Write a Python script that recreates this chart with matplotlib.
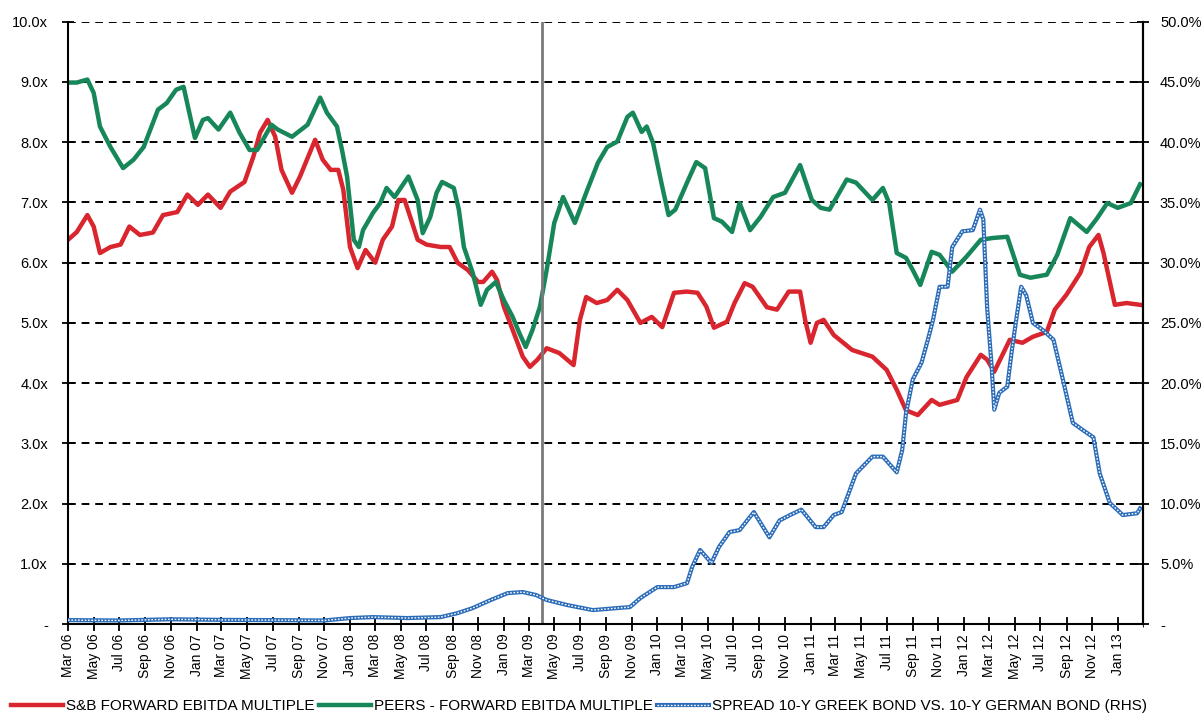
import matplotlib
matplotlib.use("Agg")
import matplotlib.pyplot as plt
import matplotlib.dates as mdates
import pandas as pd

plt.rcParams['font.family'] = ['Liberation Sans', 'DejaVu Sans']

# S&B forward EBITDA multiple (x)
sb_dates = ["2006-03-01", "2006-03-22", "2006-04-16", "2006-05-01", "2006-05-16", "2006-06-10",
            "2006-07-04", "2006-07-25", "2006-08-19", "2006-09-19", "2006-10-13", "2006-11-16",
            "2006-12-10", "2007-01-04", "2007-01-28", "2007-02-27", "2007-03-22", "2007-04-25",
            "2007-05-16", "2007-06-01", "2007-06-19", "2007-07-07", "2007-07-22", "2007-08-16",
            "2007-09-04", "2007-10-10", "2007-10-28", "2007-11-16", "2007-12-04", "2007-12-16",
            "2008-01-01", "2008-01-19", "2008-02-07", "2008-03-01", "2008-03-19", "2008-04-10",
            "2008-04-25", "2008-05-10", "2008-05-28", "2008-06-10", "2008-07-01", "2008-08-04",
            "2008-08-25", "2008-09-13", "2008-10-07", "2008-11-01", "2008-11-13", "2008-12-04",
            "2008-12-16", "2009-01-01", "2009-01-25", "2009-02-15", "2009-03-04", "2009-03-22",
            "2009-04-13", "2009-05-13", "2009-06-16", "2009-07-01", "2009-07-16", "2009-08-10",
            "2009-09-04", "2009-09-28", "2009-10-22", "2009-11-22", "2009-12-19", "2010-01-13",
            "2010-02-10", "2010-03-13", "2010-04-07", "2010-04-28", "2010-05-16", "2010-06-16",
            "2010-07-04", "2010-07-28", "2010-08-16", "2010-09-19", "2010-10-13", "2010-11-10",
            "2010-12-07", "2010-12-19", "2011-01-01", "2011-01-16", "2011-02-01", "2011-02-25",
            "2011-04-10", "2011-05-28", "2011-07-01", "2011-07-25", "2011-08-16", "2011-09-13",
            "2011-10-16", "2011-11-04", "2011-12-16", "2012-01-07", "2012-02-10", "2012-02-25",
            "2012-03-13", "2012-04-19", "2012-05-19", "2012-06-13", "2012-07-16", "2012-08-04",
            "2012-09-01", "2012-10-04", "2012-10-25", "2012-11-16", "2012-11-28", "2012-12-25",
            "2013-01-22", "2013-02-23"]
sb_vals = [6.38, 6.51, 6.79, 6.60, 6.16, 6.26,
           6.30, 6.60, 6.46, 6.50, 6.79, 6.84,
           7.13, 6.96, 7.13, 6.91, 7.18, 7.34,
           7.76, 8.16, 8.37, 8.09, 7.54, 7.16,
           7.43, 8.04, 7.71, 7.54, 7.54, 7.21,
           6.26, 5.91, 6.21, 6.00, 6.38, 6.60,
           7.04, 7.04, 6.66, 6.38, 6.30, 6.26,
           6.26, 6.00, 5.88, 5.68, 5.68, 5.85,
           5.71, 5.27, 4.83, 4.44, 4.27, 4.39,
           4.58, 4.50, 4.30, 5.05, 5.43, 5.33,
           5.38, 5.55, 5.38, 5.00, 5.10, 4.93,
           5.50, 5.52, 5.50, 5.27, 4.92, 5.02,
           5.33, 5.66, 5.60, 5.26, 5.22, 5.52,
           5.52, 5.05, 4.67, 5.00, 5.05, 4.80,
           4.55, 4.44, 4.22, 3.89, 3.55, 3.47,
           3.72, 3.64, 3.72, 4.10, 4.47, 4.39,
           4.19, 4.72, 4.67, 4.77, 4.85, 5.22,
           5.47, 5.83, 6.26, 6.46, 6.16, 5.30,
           5.33, 5.30]

# Peers forward EBITDA multiple (x)
peer_dates = ["2006-03-01", "2006-03-22", "2006-04-16", "2006-05-01", "2006-05-16", "2006-06-10",
              "2006-07-10", "2006-08-04", "2006-08-28", "2006-10-01", "2006-10-22", "2006-11-13",
              "2006-12-01", "2006-12-13", "2006-12-28", "2007-01-16", "2007-01-28", "2007-02-22",
              "2007-03-22", "2007-04-13", "2007-05-07", "2007-05-25", "2007-06-28", "2007-07-13",
              "2007-08-16", "2007-09-22", "2007-10-22", "2007-11-07", "2007-12-01", "2007-12-13",
              "2007-12-25", "2008-01-10", "2008-01-22", "2008-02-01", "2008-02-25", "2008-03-13",
              "2008-03-28", "2008-04-16", "2008-05-19", "2008-06-10", "2008-06-22", "2008-07-10",
              "2008-07-25", "2008-08-07", "2008-09-04", "2008-09-16", "2008-09-28", "2008-10-19",
              "2008-11-07", "2008-11-22", "2008-12-13", "2009-01-01", "2009-01-22", "2009-02-07",
              "2009-02-22", "2009-03-10", "2009-03-28", "2009-04-13", "2009-05-01", "2009-05-22",
              "2009-06-19", "2009-07-16", "2009-08-13", "2009-09-04", "2009-09-28", "2009-10-22",
              "2009-11-04", "2009-11-25", "2009-12-07", "2009-12-22", "2010-01-13", "2010-01-28",
              "2010-02-13", "2010-03-13", "2010-04-04", "2010-04-25", "2010-05-16", "2010-06-04",
              "2010-06-28", "2010-07-16", "2010-08-10", "2010-09-04", "2010-10-04", "2010-11-01",
              "2010-12-07", "2011-01-04", "2011-01-25", "2011-02-15", "2011-03-28", "2011-04-19",
              "2011-05-28", "2011-06-22", "2011-07-07", "2011-07-25", "2011-08-16", "2011-09-01",
              "2011-09-19", "2011-10-16", "2011-11-04", "2011-12-04", "2012-01-07", "2012-02-10",
              "2012-03-10", "2012-04-13", "2012-05-13", "2012-06-07", "2012-07-16", "2012-08-10",
              "2012-09-10", "2012-10-19", "2012-11-13", "2012-12-07", "2013-01-01", "2013-02-01",
              "2013-02-23"]
peer_vals = [8.99, 8.99, 9.04, 8.82, 8.26, 7.92,
             7.57, 7.71, 7.92, 8.54, 8.65, 8.87,
             8.92, 8.54, 8.07, 8.37, 8.40, 8.21,
             8.49, 8.16, 7.87, 7.87, 8.29, 8.21,
             8.09, 8.29, 8.74, 8.49, 8.26, 7.87,
             7.43, 6.38, 6.26, 6.54, 6.83, 6.99,
             7.24, 7.09, 7.43, 7.04, 6.49, 6.76,
             7.16, 7.34, 7.24, 6.88, 6.26, 5.83,
             5.30, 5.55, 5.68, 5.38, 5.10, 4.83,
             4.60, 4.88, 5.27, 5.88, 6.66, 7.09,
             6.66, 7.16, 7.66, 7.92, 8.01, 8.42,
             8.49, 8.17, 8.26, 7.99, 7.26, 6.79,
             6.88, 7.33, 7.67, 7.57, 6.74, 6.68,
             6.51, 6.99, 6.54, 6.76, 7.09, 7.16,
             7.62, 7.04, 6.91, 6.88, 7.38, 7.33,
             7.04, 7.24, 6.99, 6.16, 6.08, 5.88,
             5.63, 6.18, 6.13, 5.85, 6.10, 6.38,
             6.41, 6.43, 5.80, 5.75, 5.80, 6.13,
             6.74, 6.51, 6.74, 6.99, 6.91, 6.99,
             7.30]

# Spread 10-Y Greek bond vs 10-Y German bund (%, right axis)
spread_dates = ["2006-03-01", "2006-07-01", "2006-11-01", "2007-03-01", "2007-07-01", "2007-11-01",
                "2008-01-01", "2008-02-25", "2008-05-16", "2008-08-04", "2008-09-13", "2008-10-19",
                "2008-12-01", "2009-01-10", "2009-02-15", "2009-03-19", "2009-04-13", "2009-06-01",
                "2009-08-01", "2009-09-28", "2009-10-28", "2009-11-22", "2010-01-01", "2010-02-10",
                "2010-03-13", "2010-03-25", "2010-04-13", "2010-04-28", "2010-05-10", "2010-05-28",
                "2010-06-22", "2010-07-16", "2010-08-19", "2010-09-25", "2010-10-19", "2010-11-13",
                "2010-12-10", "2011-01-13", "2011-02-01", "2011-02-25", "2011-03-16", "2011-04-19",
                "2011-05-28", "2011-06-22", "2011-07-25", "2011-08-07", "2011-08-16", "2011-09-01",
                "2011-09-22", "2011-10-07", "2011-10-19", "2011-11-04", "2011-11-23", "2011-12-04",
                "2011-12-28", "2012-01-22", "2012-02-08", "2012-02-16", "2012-02-25", "2012-03-07",
                "2012-03-13", "2012-03-25", "2012-04-13", "2012-04-23", "2012-05-04", "2012-05-16",
                "2012-05-28", "2012-06-13", "2012-07-07", "2012-08-01", "2012-08-22", "2012-09-16",
                "2012-10-10", "2012-11-04", "2012-11-19", "2012-12-13", "2013-01-13", "2013-02-16",
                "2013-02-23"]
spread_vals = [0.33, 0.30, 0.40, 0.35, 0.33, 0.30,
               0.50, 0.58, 0.50, 0.58, 0.91, 1.33,
               2.00, 2.57, 2.66, 2.41, 2.00, 1.58,
               1.16, 1.33, 1.41, 2.16, 3.07, 3.07,
               3.40, 4.73, 6.15, 5.56, 5.07, 6.40,
               7.64, 7.80, 9.30, 7.20, 8.60, 9.05,
               9.50, 8.05, 8.05, 9.05, 9.30, 12.5,
               13.9, 13.9, 12.6, 14.45, 17.5, 20.3,
               21.7, 23.6, 25.2, 28.0, 28.0, 31.3,
               32.6, 32.7, 34.4, 33.6, 26.3, 21.3,
               17.8, 19.2, 19.7, 22.5, 25.2, 28.0,
               27.3, 25.0, 24.4, 23.6, 20.5, 16.7,
               16.1, 15.5, 12.5, 10.05, 9.05, 9.2,
               9.6]

left_ticks = [0, 1, 2, 3, 4, 5, 6, 7, 8, 9, 10]
left_labels = ["-", "1.0x", "2.0x", "3.0x", "4.0x", "5.0x", "6.0x", "7.0x", "8.0x", "9.0x", "10.0x"]
right_ticks = [0, 5, 10, 15, 20, 25, 30, 35, 40, 45, 50]
right_labels = ["-", "5.0%", "10.0%", "15.0%", "20.0%", "25.0%", "30.0%", "35.0%", "40.0%", "45.0%", "50.0%"]
marker_date = "2009-04-01"

sb_d = pd.to_datetime(sb_dates)
peer_d = pd.to_datetime(peer_dates)
spread_d = pd.to_datetime(spread_dates)

fig = plt.figure(figsize=(12.04, 7.24), dpi=100)
ax = fig.add_axes([0.0565, 0.138, 0.8925, 0.832])
ax2 = ax.twinx()

red = '#d9252e'
green = '#17875a'
blue = '#2b6cb8'

l1, = ax.plot(sb_d, sb_vals, color=red, lw=3.2, solid_joinstyle='round')
l2, = ax.plot(peer_d, peer_vals, color=green, lw=3.2, solid_joinstyle='round')
ax.axvline(pd.Timestamp(marker_date), color='#7a7a7a', lw=2)

l3a, = ax2.plot(spread_d, spread_vals, color=blue, lw=3.0)
l3b, = ax2.plot(spread_d, spread_vals, color='white', lw=1.0, ls=(0, (1.2, 1.2)))

ax.set_xlim(pd.Timestamp("2006-03-01"), pd.Timestamp("2013-03-01"))
ax.set_ylim(0, 10)
ax2.set_ylim(0, 50)

xt = pd.date_range("2006-03-01", "2013-01-01", freq="2MS")
ax.set_xticks(xt)
ax.set_xticklabels([d.strftime("%b %y") for d in xt], rotation=90, fontsize=10)
ax.xaxis.set_minor_locator(mdates.MonthLocator(bymonth=[3]))

ax.set_yticks(left_ticks)
ax.set_yticklabels(left_labels, fontsize=10.5)
ax2.set_yticks(right_ticks)
ax2.set_yticklabels(right_labels, fontsize=10.5)

for a in (ax, ax2):
    a.spines['top'].set_visible(False)
    for s in a.spines.values():
        s.set_linewidth(1.5)
ax2.spines['left'].set_visible(False)
ax2.spines['bottom'].set_visible(False)

ax.yaxis.grid(True, color='black', lw=1.4, ls=(0, (4, 3)))
ax.tick_params(axis='y', direction='inout', length=9, width=1.3, pad=10)
ax2.tick_params(axis='y', direction='inout', length=9, width=1.3, pad=8)
ax.tick_params(axis='x', direction='inout', length=10, width=1.3, pad=2)

fig.legend([l1, l2, (l3a, l3b)],
           ["S&B FORWARD EBITDA MULTIPLE", "PEERS - FORWARD EBITDA MULTIPLE",
            "SPREAD 10-Y GREEK BOND VS. 10-Y GERMAN BOND (RHS)"],
           loc='lower left', bbox_to_anchor=(0.0, 0.0), ncol=3, frameon=False,
           fontsize=11, handlelength=3.4, handletextpad=0.2, columnspacing=0.3,
           borderaxespad=0.3)

fig.savefig("out.png", dpi=100)
